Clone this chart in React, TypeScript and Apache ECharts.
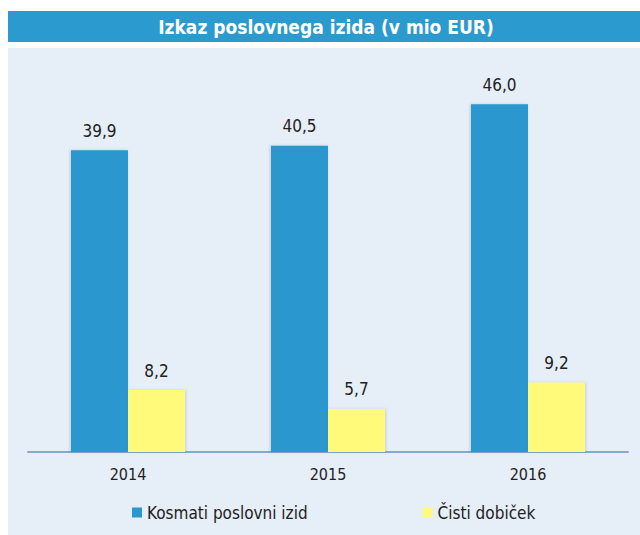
import React, { useEffect, useRef } from "react";
import * as echarts from "echarts";

const categories = ["2014", "2015", "2016"];
const seriesNames = ["Kosmati poslovni izid", "Čisti dobiček"];
const grossValues = [39.9, 40.5, 46.0];
const netValues = [8.2, 5.7, 9.2];
const titleText = "Izkaz poslovnega izida (v mio EUR)";

const FONT = "'DejaVu Sans Condensed', 'Liberation Sans'";

export default function App() {
  const ref = useRef<HTMLDivElement>(null);
  useEffect(() => {
    if (!ref.current) return;
    const chart = echarts.init(ref.current, null, { renderer: "svg" });
    const fmt = (p: any) => Number(p.value).toFixed(1).replace(".", ",");
    chart.setOption({
      animation: false,
      backgroundColor: "#ffffff",
      graphic: [
        { type: "rect", z: -10, shape: { x: 8, y: 11, width: 632, height: 31 }, style: { fill: "#2B9ACF" } },
        { type: "rect", z: -10, shape: { x: 8, y: 48, width: 632, height: 487 }, style: { fill: "#E6EEF8" } },
        {
          type: "text",
          z: 10,
          x: 326,
          y: 27,
          style: {
            text: titleText,
            fill: "#ffffff",
            font: `bold 19px ${FONT}`,
            textAlign: "center",
            textVerticalAlign: "middle",
          },
        },
      ],
      grid: { left: 28, right: 12, top: 74, bottom: 83, containLabel: false },
      legend: {
        data: seriesNames,
        left: 127,
        top: 499,
        itemWidth: 10,
        itemHeight: 10,
        itemGap: 115,
        icon: "rect",
        textStyle: { fontFamily: FONT, fontSize: 17, color: "#222222" },
      },
      xAxis: {
        type: "category",
        data: categories,
        axisLine: { lineStyle: { color: "#86A9CF", width: 2 } },
        axisTick: { show: false },
        axisLabel: { fontFamily: FONT, fontSize: 16, color: "#222222", margin: 14 },
      },
      yAxis: {
        type: "value",
        min: 0,
        max: 50,
        show: false,
        splitLine: { show: false },
      },
      series: [
        {
          name: seriesNames[0],
          type: "bar",
          data: grossValues,
          barWidth: 57,
          barGap: "0%",
          itemStyle: { color: "#2A98CE", shadowColor: "rgba(0,0,0,0.15)", shadowBlur: 3, shadowOffsetX: -1 },
          label: {
            show: true,
            position: "top",
            distance: 11,
            formatter: fmt,
            fontFamily: FONT,
            fontSize: 17,
            color: "#222222",
          },
        },
        {
          name: seriesNames[1],
          type: "bar",
          data: netValues,
          barWidth: 57,
          barGap: "0%",
          itemStyle: { color: "#FFFA7A", shadowColor: "rgba(0,0,0,0.12)", shadowBlur: 3, shadowOffsetX: 1 },
          label: {
            show: true,
            position: "top",
            distance: 11,
            formatter: fmt,
            fontFamily: FONT,
            fontSize: 17,
            color: "#222222",
          },
        },
      ],
    });
    return () => chart.dispose();
  }, []);
  return (
    <div
      ref={ref}
      style={{ position: "absolute", left: 0, top: 0, width: 640, height: 535 }}
    />
  );
}
